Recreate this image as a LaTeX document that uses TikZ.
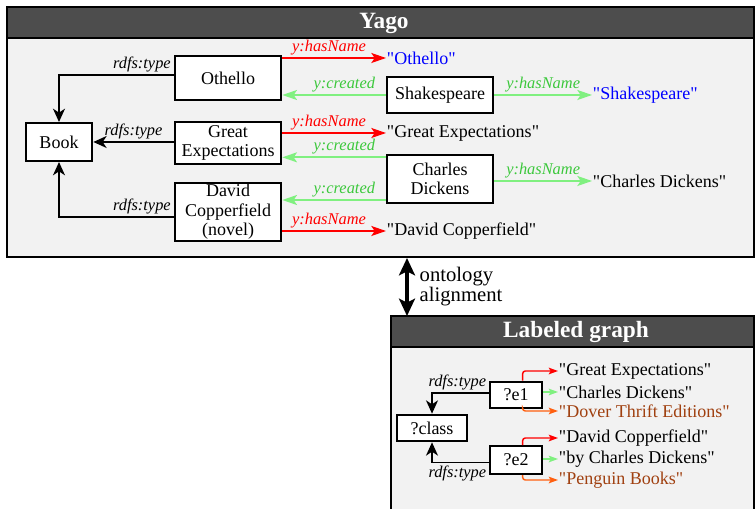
\documentclass[tikz,border=0pt]{standalone}
\usepackage{fontspec}
\setmainfont{Liberation Serif}
\usetikzlibrary{arrows.meta}

\definecolor{titlebg}{RGB}{77,77,77}
\definecolor{bodybg}{RGB}{242,242,242}
\definecolor{edgegreen}{RGB}{128,240,128}
\definecolor{labelgreen}{RGB}{60,200,60}
\definecolor{litblue}{RGB}{0,0,255}
\definecolor{litbrown}{RGB}{160,64,16}
\definecolor{edgeorange}{RGB}{255,96,16}
% straight double quote, kept out of the TeX ligature mapping
\newcommand{\dq}{\XeTeXglyph\XeTeXcharglyph"22\relax}

\begin{document}
\begin{tikzpicture}[x=0.75pt, y=-0.75pt,
    every node/.style={font=\fontsize{13.5}{14.5}\selectfont, align=center},
    ent/.style={draw, line width=1.5pt, fill=white, inner sep=1pt},
    lit/.style={anchor=west, inner sep=0.5pt},
    lbl/.style={font=\fontsize{12.3}{13}\selectfont\itshape, inner sep=1.5pt},
    ttl/.style={text=white, font=\fontsize{17.5}{19}\selectfont\bfseries},
    frame/.style={line width=1.5pt},
    typeedge/.style={line width=1.4pt, -{Stealth[length=10pt, width=9pt, inset=3pt]}},
    hasname/.style={red, line width=1.4pt, -{Stealth[length=11pt, width=7.5pt, inset=2.5pt]}},
    created/.style={edgegreen, line width=1.4pt, -{Stealth[length=11pt, width=7.5pt, inset=2.5pt]}},
    smalledge/.style={line width=1.1pt, rounded corners=2pt, -{Stealth[length=7pt, width=5pt, inset=1.5pt]}}]
  \useasboundingbox (0,0) rectangle (756,509);
  \clip (0,0) rectangle (756,509);

  % Yago frame
  \fill[bodybg] (7,7) rectangle (754,257);
  \fill[titlebg] (7,7) rectangle (754,38);
  \draw[frame] (7,7) rectangle (754,257);
  \draw[frame] (7,38) -- (754,38);
  \node[ttl] (yagoT) at (384,23) {Yago};

  % Yago entities
  \node[ent, minimum width=80pt, minimum height=33pt] (othello) at (228,78) {Othello};
  \node[ent, minimum width=50pt, minimum height=28.5pt] (book) at (59,142) {Book};
  \node[ent, minimum width=80pt, minimum height=32pt] (ge) at (228,143) {Great\\Expectations};
  \node[ent, minimum width=80pt, minimum height=44pt, inner sep=0pt] (dc) at (228,212) {David\\Copperfield\\(novel)};
  \node[ent, minimum width=80pt, minimum height=27pt] (shakespeare) at (440,95) {Shakespeare};
  \node[ent, minimum width=80pt, minimum height=36pt] (cd) at (440,179) {Charles\\Dickens};

  % Yago literals
  \node[lit, text=litblue] (othelloLit) at (386,58) {\dq Othello\dq};
  \node[lit, text=litblue] (shakespeareLit) at (592,95) {\dq Shakespeare\dq};
  \node[lit] (geLit) at (386,133) {\dq Great Expectations\dq};
  \node[lit] (cdLit) at (592,181) {\dq Charles Dickens\dq};
  \node[lit] (dcLit) at (386,231) {\dq David Copperfield\dq};

  % rdfs:type
  \draw[typeedge] ([yshift=2pt]othello.west) node[lbl, above left] {rdfs:type} -| (book.north);
  \draw[typeedge] (ge.west |- book.east) -- node[lbl, above] {rdfs:type} (book.east);
  \draw[typeedge] ([yshift=-4pt]dc.west) node[lbl, above left] {rdfs:type} -| (book.south);

  % y:hasName
  \draw[hasname] (othello.east |- othelloLit.west) -- node[lbl, above, text=red, pos=0.45] {y:hasName} (othelloLit.west);
  \draw[hasname] (ge.east |- geLit.west) -- node[lbl, above, text=red, pos=0.45] {y:hasName} (geLit.west);
  \draw[hasname] (dc.east |- dcLit.west) -- node[lbl, above, text=red, pos=0.45] {y:hasName} (dcLit.west);
  \draw[created] (shakespeare.east) -- node[lbl, above, text=labelgreen] {y:hasName} (shakespeareLit.west);
  \draw[created] (cd.east |- cdLit.west) -- node[lbl, above, text=labelgreen] {y:hasName} (cdLit.west);

  % y:created
  \draw[created] (shakespeare.west) -- node[lbl, above, text=labelgreen, pos=0.4] {y:created} (othello.east |- shakespeare.west);
  \draw[created] ([yshift=-2.5pt]cd.north west) coordinate (cdA) -- node[lbl, above, text=labelgreen, pos=0.4] {y:created} (ge.east |- cdA);
  \draw[created] ([yshift=3pt]cd.south west) coordinate (cdB) -- node[lbl, above, text=labelgreen, pos=0.4] {y:created} (dc.east |- cdB);

  % ontology alignment
  \coordinate (alignTop) at (407,258);
  \coordinate (alignBot) at (407,316);
  \draw[line width=2.4pt, {Stealth[length=13pt, width=12pt, inset=3pt]}-{Stealth[length=13pt, width=12pt, inset=3pt]}] (alignTop) -- node[right, align=left, xshift=5pt, font=\fontsize{15.5}{15}\selectfont] (alignLbl) {ontology\\alignment} (alignBot);

  % Labeled graph frame
  \fill[bodybg] (391,316) rectangle (754,520);
  \fill[titlebg] (391,316) rectangle (754,347);
  \draw[frame] (391,520) -- (391,316) -- (754,316) -- (754,520);
  \draw[frame] (391,347) -- (754,347);
  \node[ttl] (lgT) at (576,332) {Labeled graph};

  % Labeled graph entities
  \node[ent, minimum width=39pt, minimum height=20pt] (e1) at (516,395) {?e1};
  \node[ent, minimum width=52pt, minimum height=20pt] (cls) at (432,428) {?class};
  \node[ent, minimum width=39pt, minimum height=21pt] (e2) at (516,460) {?e2};

  % Labeled graph literals
  \node[lit] (l1) at (558,371) {\dq Great Expectations\dq};
  \node[lit] (l2) at (558,392) {\dq Charles Dickens\dq};
  \node[lit, text=litbrown] (l3) at (558,411) {\dq Dover Thrift Editions\dq};
  \node[lit] (l4) at (558,438) {\dq David Copperfield\dq};
  \node[lit] (l5) at (558,459) {\dq by Charles Dickens\dq};
  \node[lit, text=litbrown] (l6) at (558,480) {\dq Penguin Books\dq};

  \draw[typeedge, line width=1.2pt] ([yshift=1.5pt]e1.west) node[lbl, above left] {rdfs:type} -| (cls.north);
  \draw[typeedge, line width=1.2pt] ([yshift=-2pt]e2.west) node[lbl, below left] {rdfs:type} -| (cls.south);
  \draw[smalledge, red] ([xshift=5pt]e1.north) |- (l1.west);
  \draw[smalledge, edgegreen] (e1.east |- l2.west) -- (l2.west);
  \draw[smalledge, edgeorange] ([xshift=5pt]e1.south) |- (l3.west);
  \draw[smalledge, red] ([xshift=5pt]e2.north) |- (l4.west);
  \draw[smalledge, edgegreen] (e2.east |- l5.west) -- (l5.west);
  \draw[smalledge, edgeorange] ([xshift=5pt]e2.south) |- (l6.west);
\end{tikzpicture}
\end{document}
